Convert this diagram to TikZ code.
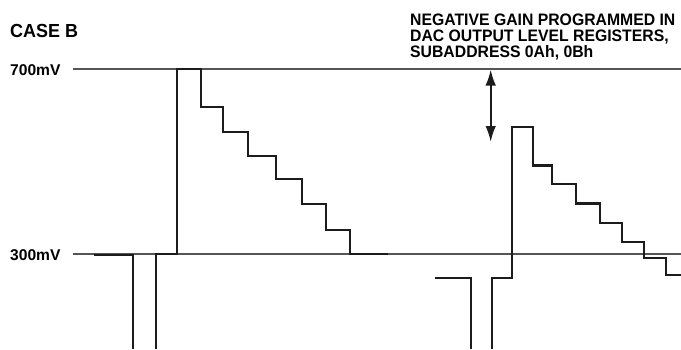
\documentclass[tikz,border=0pt]{standalone}
\usepackage{fontspec}
\setmainfont{Liberation Sans}
\newfontfamily\notefont{Liberation Sans}[FakeStretch=0.95]
\usetikzlibrary{arrows.meta}
\definecolor{gridgray}{HTML}{555555}
\definecolor{wave}{HTML}{1C1C1C}
\begin{document}
\begin{tikzpicture}[x=1pt,y=-1pt,
  lvl/.style={draw=gridgray,line width=1.4pt},
  wv/.style={draw=wave,line width=2.7pt,line join=miter},
  lbl/.style={inner sep=0pt,font=\bfseries\fontsize{15.6}{16}\selectfont},
  gainarrow/.style={draw=wave,line width=2pt,{Latex[length=16pt,width=10.5pt]}-{Latex[length=16pt,width=10.5pt]}}]
\useasboundingbox (0,0) rectangle (681,349);
% text
\node[inner sep=0pt,anchor=base west,font=\notefont\bfseries\fontsize{18.9}{20}\selectfont] (case) at (10,37.7) {CASE B};
\node[lbl,anchor=base west] (l700) at (10,75) {700mV};
\node[lbl,anchor=base west] (l300) at (10,260) {300mV};
\node[inner sep=0pt,anchor=north west,align=left,font=\notefont\bfseries\fontsize{16.6}{16}\selectfont] (note) at (410,13.3)
  {NEGATIVE GAIN PROGRAMMED IN\\DAC OUTPUT LEVEL REGISTERS,\\SUBADDRESS 0Ah, 0Bh};
% reference levels
\coordinate (a0) at (73,69);
\coordinate (a1) at (681,69);
\coordinate (b0) at (73,254);
\coordinate (b1) at (681,254);
\draw[lvl] (a0) -- (a1);
\draw[lvl] (b0) -- (b1);
% waveform 1
\draw[wv] (94,255) -- (133,255) -- (133,349);
\draw[wv] (156,349) -- (156,254) -- (177,254) -- (177,69) -- (201,69)
  -- (201,107) -- (223,107) -- (223,132) -- (248,132) -- (248,156)
  -- (276,156) -- (276,179) -- (302,179) -- (302,204) -- (326,204)
  -- (326,230) -- (350,230) -- (350,254) -- (388,254);
% waveform 2
\draw[wv] (435,278) -- (471,278) -- (471,349);
\draw[wv] (492,349) -- (492,278) -- (512,278) -- (512,127) -- (533,127)
  -- (533,165.5) -- (552,165.5) -- (552,184) -- (576,184) -- (576,203.5)
  -- (600,203.5) -- (600,223) -- (622,223) -- (622,242) -- (644,242)
  -- (644,258) -- (666,258) -- (666,275) -- (681,275);
% arrow
\coordinate (ar0) at (490.7,69.5);
\coordinate (ar1) at (490.7,142);
\draw[gainarrow] (ar0) -- (ar1);
\end{tikzpicture}
\end{document}
